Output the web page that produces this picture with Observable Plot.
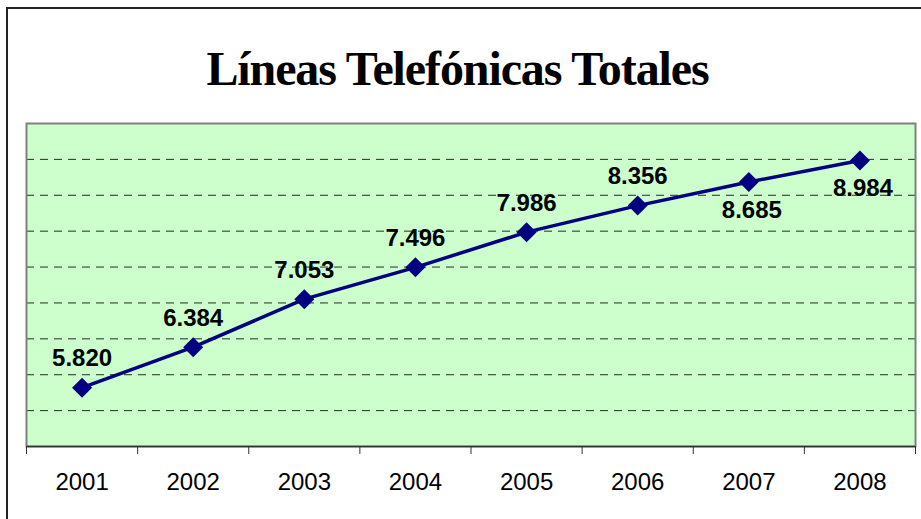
<!DOCTYPE html>
<html>
<head>
<meta charset="utf-8">
<script src="https://cdn.jsdelivr.net/npm/d3@7"></script>
<script src="https://cdn.jsdelivr.net/npm/@observablehq/plot@0.6"></script>
<style>
  html, body { margin: 0; padding: 0; background: #ffffff; }
  #wrap { position: relative; width: 921px; height: 519px; overflow: hidden; background: #fff; }
  #border { position: absolute; left: 6px; top: 7px; width: 1000px; height: 1000px;
            border-left: 2px solid #222; border-top: 2px solid #222; box-sizing: border-box; }
  #title { position: relative; height: 115px; }
  #title span { position: absolute; left: 0; top: 45px; width: 915px; text-align: center;
                font: bold 48px "Liberation Serif", "Times New Roman", serif; line-height: 48px;
                letter-spacing: -1.1px; color: #000; white-space: nowrap; }
  #chart { position: relative; }
</style>
</head>
<body>
<div id="wrap">
  <div id="border"></div>
  <div id="title"><span>Líneas Telefónicas Totales</span></div>
  <div id="chart"></div>
</div>
<script>
// ---- data ----
const years = [2001, 2002, 2003, 2004, 2005, 2006, 2007, 2008];
const values = [5820, 6384, 7053, 7496, 7986, 8356, 8685, 8984];
const labelPlacement = ["above", "above", "above", "above", "above", "above", "below", "below"];
const yDomain = [5000, 9500];
const gridValues = [5500, 6000, 6500, 7000, 7500, 8000, 8500, 9000];

const data = years.map((year, i) => ({year, value: values[i], place: labelPlacement[i]}));
const boundaries = [...years.map(y => y - 0.5), years[years.length - 1] + 0.5];

const es = d3.formatLocale({decimal: ",", thousands: ".", grouping: [3], currency: ["", " €"]});
const fmt = es.format(",d");

const font = '"Liberation Sans", Arial, sans-serif';
const navy = "#000080";

const chart = Plot.plot({
  width: 921,
  height: 404,
  marginTop: 8,
  marginBottom: 73,
  marginLeft: 26,
  marginRight: 6,
  style: {background: "transparent", fontFamily: font, color: "#000", overflow: "visible"},
  x: {type: "linear", domain: [boundaries[0], boundaries[boundaries.length - 1]], label: null},
  y: {domain: yDomain, axis: null, label: null},
  marks: [
    Plot.frame({fill: "#ccffcc", stroke: null}),
    Plot.ruleY(gridValues, {stroke: "#2a2a2a", strokeWidth: 1, strokeDasharray: "8,6"}),
    Plot.frame({stroke: "#808080", strokeWidth: 2}),
    Plot.ruleY([yDomain[0]], {stroke: "#333", strokeWidth: 1.5}),
    Plot.axisX({ticks: boundaries, tickSize: 8, tickFormat: () => "", stroke: "#333", label: null}),
    Plot.axisX({ticks: years, tickSize: 0, tickPadding: 26, tickFormat: d => String(d), label: null,
                fontSize: 24, fill: "#000", style: {letterSpacing: "-0.6px"}}),
    Plot.line(data, {x: "year", y: "value", stroke: navy, strokeWidth: 3.5}),
    Plot.dot(data, {x: "year", y: "value", symbol: "diamond2", r: 9, fill: navy, stroke: null}),
    Plot.text(data.filter(d => d.place === "above"), {x: "year", y: "value", text: d => fmt(d.value),
      dy: -29, fontSize: 24, fontWeight: "bold", fill: "#000"}),
    Plot.text(data.filter(d => d.place === "below"), {x: "year", y: "value", text: d => fmt(d.value),
      dy: 28, dx: 3, fontSize: 24, fontWeight: "bold", fill: "#000"})
  ]
});
document.getElementById("chart").appendChild(chart);
</script>
</body>
</html>
